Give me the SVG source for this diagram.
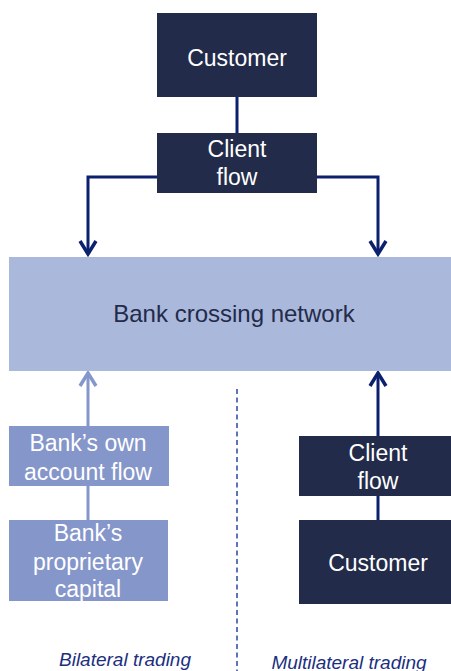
<svg xmlns="http://www.w3.org/2000/svg" width="451" height="671" viewBox="0 0 451 671">
<style>
.dark{fill:#222B4A}
.mid{fill:#8596CA}
.light{fill:#AAB8DB}
.t{font-family:"Liberation Sans",Arial,sans-serif;font-size:23px;fill:#FFFFFF;text-anchor:middle}
.td{font-family:"Liberation Sans",Arial,sans-serif;font-size:24px;fill:#222B4A;text-anchor:middle}
.lab{font-family:"Liberation Sans",Arial,sans-serif;font-size:19px;font-style:italic;fill:#1B2F80;text-anchor:middle}
.cn{fill:none;stroke:#0B2170;stroke-width:3}
.cl{fill:none;stroke:#8596CA;stroke-width:3}
</style>
<defs>
<marker id="ad" markerUnits="userSpaceOnUse" viewBox="-16 -11 19 22" refX="0" refY="0" markerWidth="19" markerHeight="22" orient="auto" overflow="visible">
<path d="M-13,-8 L0,0 L-13,8" fill="none" stroke="#0B2170" stroke-width="3.5"/>
</marker>
<marker id="al" markerUnits="userSpaceOnUse" viewBox="-16 -11 19 22" refX="0" refY="0" markerWidth="19" markerHeight="22" orient="auto" overflow="visible">
<path d="M-13,-8 L0,0 L-13,8" fill="none" stroke="#8596CA" stroke-width="3.5"/>
</marker>
</defs>
<g id="connectors">
<path class="cn" d="M237,97 V133"/>
<path class="cn" d="M157,177 H88 V254" marker-end="url(#ad)"/>
<path class="cn" d="M317,177 H378 V254" marker-end="url(#ad)"/>
<path class="cl" d="M88,426 V373" marker-end="url(#al)"/>
<path class="cl" d="M88,486 V520"/>
<path class="cn" d="M378,436 V373" marker-end="url(#ad)"/>
<path class="cn" d="M378,496 V520"/>
<line x1="237" y1="389" x2="237" y2="671" stroke="#1A3A9A" stroke-width="1.4" stroke-dasharray="5,3.5"/>
</g>
<g id="customer-top">
<rect class="dark" x="157" y="13" width="160" height="84"/>
<text class="t" x="237" y="65.5">Customer</text>
</g>
<g id="clientflow-top">
<rect class="dark" x="157" y="133" width="160" height="60"/>
<text class="t" x="237" y="156.7">Client</text>
<text class="t" x="237" y="185">flow</text>
</g>
<g id="network">
<rect class="light" x="9" y="257" width="442" height="114"/>
<text class="td" x="234" y="322">Bank crossing network</text>
</g>
<g id="own-account">
<rect class="mid" x="9" y="426" width="160" height="60"/>
<text class="t" x="88" y="450.7">Bank’s own</text>
<text class="t" x="88" y="479.5">account flow</text>
</g>
<g id="proprietary">
<rect class="mid" x="9" y="520" width="159" height="81"/>
<text class="t" x="88" y="541">Bank’s</text>
<text class="t" x="88" y="569.5">proprietary</text>
<text class="t" x="88" y="597">capital</text>
</g>
<g id="clientflow-bottom">
<rect class="dark" x="299" y="436" width="158" height="60"/>
<text class="t" x="378" y="460.5">Client</text>
<text class="t" x="378" y="489">flow</text>
</g>
<g id="customer-bottom">
<rect class="dark" x="299" y="520" width="158" height="84"/>
<text class="t" x="378" y="571">Customer</text>
</g>
<g id="labels">
<text class="lab" x="125" y="666">Bilateral trading</text>
<text class="lab" x="349" y="668.5">Multilateral trading</text>
</g>
</svg>
